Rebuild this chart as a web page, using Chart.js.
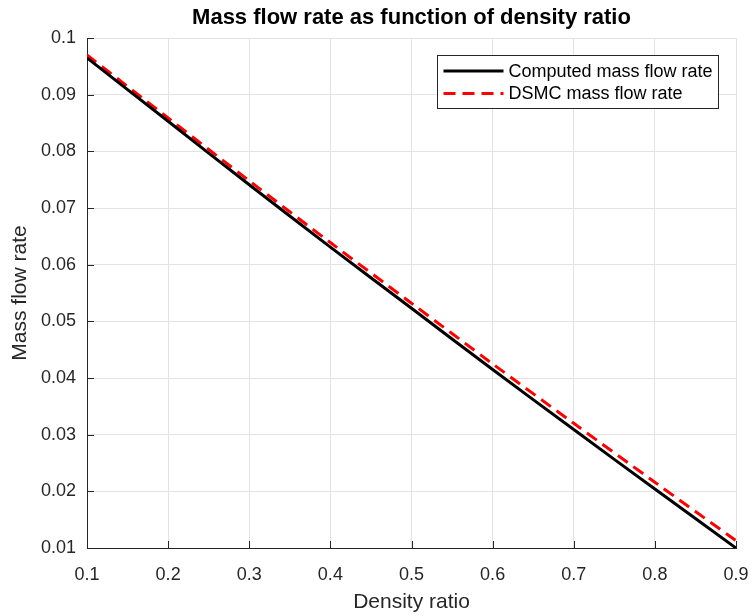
<!DOCTYPE html>
<html lang="en">
<head>
<meta charset="UTF-8">
<title>Mass flow rate</title>
<style>
    body { margin: 0; background: #ffffff; }
    #wrap { width: 752px; height: 616px; }
</style>
</head>
<body>
<div id="wrap"><canvas id="chart" width="752" height="616"></canvas></div>
<script src="https://cdn.jsdelivr.net/npm/chart.js"></script>
<script>
const densityRatio = [0.1, 0.2, 0.3, 0.4, 0.5, 0.6, 0.7, 0.8, 0.9];
const computedFlow = [0.0965, 0.0853, 0.0741, 0.0631, 0.0523, 0.0415, 0.0309, 0.0204, 0.0100];
const dsmcFlow = [0.0970, 0.0859, 0.0748, 0.0639, 0.0532, 0.0425, 0.0320, 0.0216, 0.0113];
const xTicks = [0.1, 0.2, 0.3, 0.4, 0.5, 0.6, 0.7, 0.8, 0.9];
const yTicks = [0.01, 0.02, 0.03, 0.04, 0.05, 0.06, 0.07, 0.08, 0.09, 0.1];
const seriesNames = ['Computed mass flow rate', 'DSMC mass flow rate'];
const chartTitle = 'Mass flow rate as function of density ratio';

const FONT = "'Liberation Sans', Arial, sans-serif";
const AXIS = '#262626';
const DASH = [12, 7];

function toPoints(xs, ys) {
    return xs.map((x, i) => ({ x: x, y: ys[i] }));
}

// titre centré sur les axes, ticks vers l'intérieur, légende dans le cadre
const matlabLook = {
    id: 'matlabLook',
    afterDatasetsDraw(chart) {
        const ctx = chart.ctx;
        const xs = chart.scales.x, ys = chart.scales.y;
        const a = chart.chartArea;
        ctx.save();

        ctx.fillStyle = '#000000';
        ctx.font = 'bold 22px ' + FONT;
        ctx.textAlign = 'center';
        ctx.textBaseline = 'middle';
        ctx.fillText(chartTitle, (a.left + a.right) / 2, 18);
        ctx.textAlign = 'left';

        ctx.strokeStyle = AXIS;
        ctx.lineWidth = 1;
        ctx.beginPath();
        xTicks.forEach(v => {
            const px = Math.round(xs.getPixelForValue(v)) + 0.5;
            ctx.moveTo(px, a.bottom);
            ctx.lineTo(px, a.bottom - 7);
        });
        yTicks.forEach(v => {
            const py = Math.round(ys.getPixelForValue(v)) + 0.5;
            ctx.moveTo(a.left, py);
            ctx.lineTo(a.left + 7, py);
        });
        ctx.stroke();

        // légende
        const bx = 437.5, by = 55.5, bw = 281, bh = 53;
        ctx.fillStyle = '#ffffff';
        ctx.fillRect(bx, by, bw, bh);
        ctx.strokeStyle = AXIS;
        ctx.strokeRect(bx, by, bw, bh);
        const rows = [
            { color: '#000000', dash: [], y: by + 15.5 },
            { color: '#ff0000', dash: DASH, y: by + 38 }
        ];
        ctx.font = '18px ' + FONT;
        rows.forEach((r, i) => {
            ctx.strokeStyle = r.color;
            ctx.lineWidth = 3;
            ctx.setLineDash(r.dash);
            ctx.beginPath();
            ctx.moveTo(bx + 6, r.y);
            ctx.lineTo(bx + 66, r.y);
            ctx.stroke();
            ctx.setLineDash([]);
            ctx.fillStyle = '#000000';
            ctx.fillText(seriesNames[i], bx + 71, r.y + 1);
        });
        ctx.restore();
    }
};

new Chart(document.getElementById('chart'), {
    type: 'line',
    data: {
        datasets: [
            {
                label: seriesNames[0],
                data: toPoints(densityRatio, computedFlow),
                borderColor: '#000000',
                borderWidth: 3,
                pointRadius: 0,
                tension: 0.3
            },
            {
                label: seriesNames[1],
                data: toPoints(densityRatio, dsmcFlow),
                borderColor: '#ff0000',
                borderWidth: 3,
                borderDash: DASH,
                pointRadius: 0,
                tension: 0.3
            }
        ]
    },
    options: {
        responsive: false,
        animation: false,
        layout: { padding: { left: 0, right: 16, top: 38, bottom: 0 } },
        plugins: {
            legend: { display: false },
            tooltip: { enabled: false },
            title: { display: false }
        },
        scales: {
            x: {
                type: 'linear',
                min: 0.1,
                max: 0.9,
                afterBuildTicks(scale) { scale.ticks = xTicks.map(v => ({ value: v })); },
                afterFit(scale) {
                    scale.height = 68;
                    scale.paddingRight = 0;
                    scale.paddingLeft = 0;
                },
                ticks: {
                    color: '#262626',
                    font: { family: FONT, size: 18 },
                    padding: 16,
                    maxRotation: 0,
                    callback: v => String(v)
                },
                grid: { color: '#e3e3e3', drawTicks: false, tickLength: 0 },
                border: { color: AXIS, width: 1 },
                title: {
                    display: true,
                    text: 'Density ratio',
                    color: '#262626',
                    font: { family: FONT, size: 21 },
                    padding: { top: 0, bottom: 1.5 }
                }
            },
            y: {
                type: 'linear',
                min: 0.01,
                max: 0.1,
                afterBuildTicks(scale) { scale.ticks = yTicks.map(v => ({ value: v })); },
                afterFit(scale) {
                    scale.width = 87;
                    scale.paddingTop = 0;
                    scale.paddingBottom = 0;
                },
                ticks: {
                    color: '#262626',
                    font: { family: FONT, size: 18 },
                    padding: 11,
                    callback: v => String(parseFloat(v.toFixed(2)))
                },
                grid: { color: '#e3e3e3', drawTicks: false, tickLength: 0 },
                border: { color: AXIS, width: 1 },
                title: {
                    display: true,
                    text: 'Mass flow rate',
                    color: '#262626',
                    font: { family: FONT, size: 21 },
                    padding: { top: 7.5, bottom: 0 }
                }
            }
        }
    },
    plugins: [matlabLook]
});
</script>
</body>
</html>
